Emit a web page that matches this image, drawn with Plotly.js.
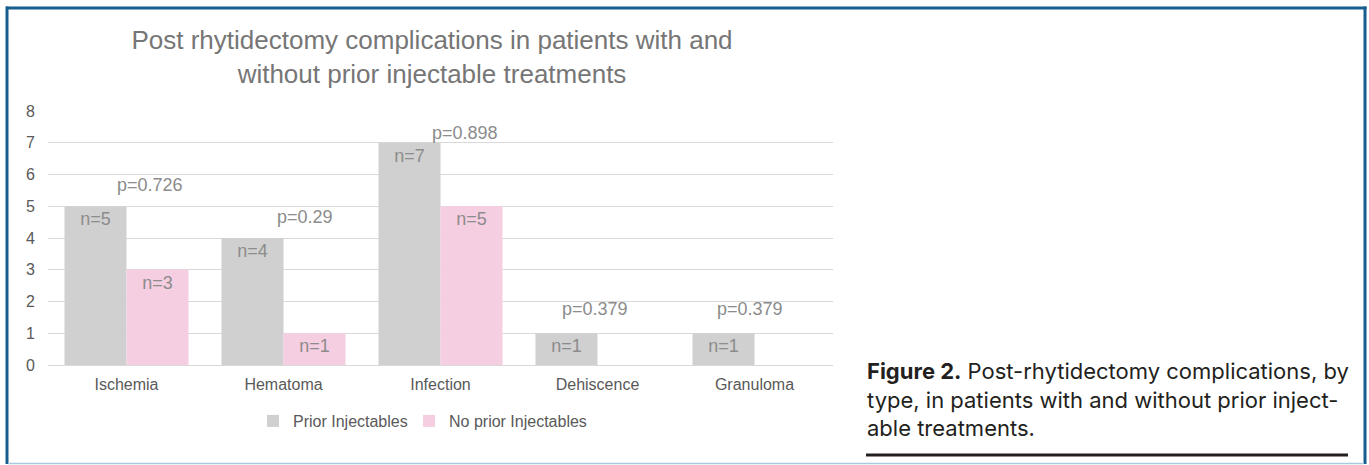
<!DOCTYPE html>
<html><head><meta charset="utf-8">
<script src="https://cdn.plot.ly/plotly-3.0.1.min.js"></script>
<style>html,body{margin:0;padding:0;background:#fff;} #chart{width:1369px;height:465px;}</style>
</head><body><div id="chart"></div>
<script>
// ---- data ----
const categories = ['Ischemia', 'Hematoma', 'Infection', 'Dehiscence', 'Granuloma'];
const priorInjectables = [5, 4, 7, 1, 1];
const noPriorInjectables = [3, 1, 5, 0, 0];
const pValues = ['0.726', '0.29', '0.898', '0.379', '0.379'];
const yTickValues = [0, 1, 2, 3, 4, 5, 6, 7, 8];
const seriesNames = ['Prior Injectables', 'No prior Injectables'];
const chartTitle = 'Post rhytidectomy complications in patients with and<br>without prior injectable treatments';
const captionBold = 'Figure 2.';
const captionLines = ['Post-rhytidectomy complications, by', 'type, in patients with and without prior inject-', 'able treatments.'];

// ---- layout constants (pixels) ----
const W = 1369, H = 465, L = 48, R = 833, T = 111, B = 365;
const px = x => (x - L) / (R - L);
const py = y => (B - y) / (B - T);
const pShiftX = [23, 21, 24, -3, -5];
const pShiftY = [21, 21, 10, 24, 24];
const FONT = '"Liberation Sans", Arial, sans-serif';
const CAPFONT = 'Inter, "Liberation Sans", sans-serif';

const nText = arr => arr.map(v => v > 0 ? 'n=' + v : '');

const traces = [
  {type: 'bar', name: seriesNames[0], x: categories, y: priorInjectables,
   marker: {color: '#d0d0d0'}, text: nText(priorInjectables), legendwidth: 111,
   textposition: 'inside', insidetextanchor: 'end', textangle: 0, constraintext: 'none',
   textfont: {family: FONT, size: 18, color: '#8c8c8c'}, cliponaxis: false},
  {type: 'bar', name: seriesNames[1], x: categories, y: noPriorInjectables,
   marker: {color: '#f6cee2'}, text: nText(noPriorInjectables),
   textposition: 'inside', insidetextanchor: 'end', textangle: 0, constraintext: 'none',
   textfont: {family: FONT, size: 18, color: '#8c8c8c'}, cliponaxis: false}
];

const annotations = categories.map((c, i) => ({
  x: c, y: Math.max(priorInjectables[i], noPriorInjectables[i]), xref: 'x', yref: 'y',
  text: 'p=' + pValues[i], showarrow: false, xanchor: 'center', yanchor: 'middle',
  xshift: pShiftX[i], yshift: pShiftY[i],
  font: {family: FONT, size: 18, color: '#8c8c8c'}
}));
annotations.push({
  xref: 'paper', yref: 'paper', x: px(865), y: py(356), xanchor: 'left', yanchor: 'top',
  align: 'left', showarrow: false,
  text: '<b>' + captionBold + '</b> ' + captionLines.join('<br>'),
  font: {family: CAPFONT, size: 22, color: '#231f20'}
});

const shapes = [
  {type: 'line', xref: 'paper', yref: 'paper', x0: px(866), x1: px(1348), y0: py(455), y1: py(455), line: {color: '#231f20', width: 3}},
  {type: 'line', xref: 'paper', yref: 'paper', x0: px(6), x1: px(1366.5), y0: py(8), y1: py(8), line: {color: '#175e8d', width: 3}},
  {type: 'line', xref: 'paper', yref: 'paper', x0: px(7), x1: px(7), y0: py(6.5), y1: py(464), line: {color: '#175e8d', width: 3}},
  {type: 'line', xref: 'paper', yref: 'paper', x0: px(1365), x1: px(1365), y0: py(6.5), y1: py(464), line: {color: '#175e8d', width: 3}},
  {type: 'line', xref: 'paper', yref: 'paper', x0: px(8), x1: px(1364), y0: py(463.5), y1: py(463.5), line: {color: '#a9c9de', width: 1.5}}
];

const layout = {
  width: W, height: H,
  margin: {l: L, r: W - R, t: T, b: H - B, pad: 0},
  paper_bgcolor: '#ffffff', plot_bgcolor: '#ffffff',
  title: {text: chartTitle, font: {family: FONT, size: 26, color: '#767676'},
          xref: 'container', x: 432 / W, xanchor: 'center',
          yref: 'container', y: 1 - 49 / H, yanchor: 'top'},
  barmode: 'group', bargap: 0.21, bargroupgap: 0,
  xaxis: {type: 'category', tickfont: {family: FONT, size: 16, color: '#595959'},
          ticks: '', showline: false, showgrid: false, ticklabelstandoff: 8, fixedrange: true},
  yaxis: {range: [0, 8], tickvals: yTickValues, tickfont: {family: FONT, size: 16, color: '#595959'},
          ticks: '', showline: false, showgrid: true, gridcolor: '#d9d9d9', gridwidth: 1,
          zeroline: true, zerolinecolor: '#d9d9d9', zerolinewidth: 1, ticklabelstandoff: 12, fixedrange: true},
  legend: {orientation: 'h', x: px(253), xanchor: 'left', y: py(404), yanchor: 'top',
           font: {family: FONT, size: 16, color: '#595959'}, bgcolor: 'rgba(0,0,0,0)'},
  showlegend: true,
  annotations: annotations,
  shapes: shapes,
  hovermode: false
};

Plotly.newPlot('chart', traces, layout, {staticPlot: true, displayModeBar: false});
</script>
</body></html>
